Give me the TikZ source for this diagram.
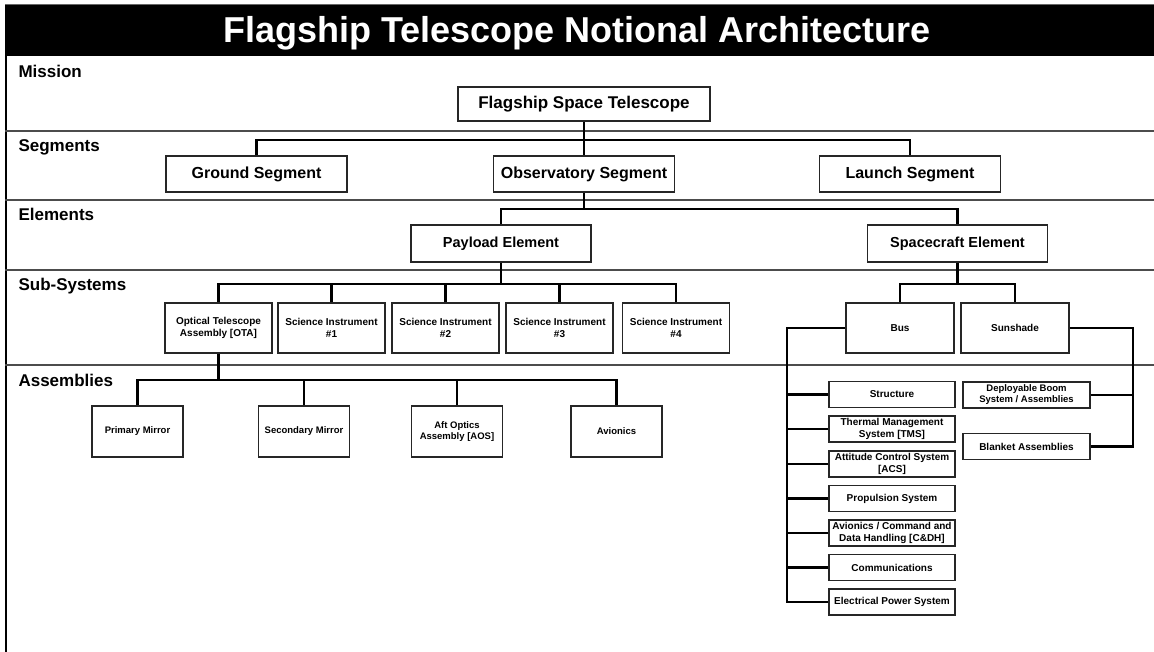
\documentclass[tikz,border=0pt]{standalone}
\usepackage{fontspec}
\setmainfont{Liberation Sans}

\begin{document}
\begin{tikzpicture}[x=1pt, y=-1pt,
  box/.style={draw=black!85, line width=1.4pt, fill=white, align=center, inner sep=1pt},
  seg/.style={box, font=\bfseries\fontsize{16}{18}\selectfont, minimum width=181pt, minimum height=36pt},
  elem/.style={box, font=\bfseries\fontsize{14.5}{17}\selectfont, minimum width=180pt, minimum height=37pt},
  sub/.style={box, font=\bfseries\fontsize{10}{12}\selectfont, minimum width=107pt, minimum height=50pt},
  assy/.style={box, font=\bfseries\fontsize{9.5}{11.5}\selectfont, minimum width=91pt, minimum height=51pt},
  part/.style={box, font=\bfseries\fontsize{10}{11.5}\selectfont, minimum width=126pt, minimum height=26pt},
  link/.style={line width=2.3pt},
  sep/.style={line width=1.7pt, draw=black!70},
  rowlabel/.style={anchor=base west, font=\bfseries\fontsize{17}{20}\selectfont}]

\useasboundingbox (0,0) rectangle (1154,652);

\fill[black] (5,5) rectangle (1154,56);
\draw[black!60, line width=0.8pt] (5,4.6) -- (1154,4.6);
\draw[line width=2.2pt] (6,5) -- (6,652);
\draw[sep] (5,131) -- (1154,131);
\draw[sep] (5,200) -- (1154,200);
\draw[sep] (5,270) -- (1154,270);
\draw[sep] (5,365) -- (1154,365);

\node[anchor=base, text=white, font=\bfseries\fontsize{36}{40}\selectfont] (title) at (577,43)
  {Flagship Telescope Notional Architecture};

\node[rowlabel] (mission) at (15,78) {Mission};
\node[rowlabel] (segments) at (15,152) {Segments};
\node[rowlabel] (elements) at (15,221) {Elements};
\node[rowlabel] (subsystems) at (15,291) {Sub-Systems};
\node[rowlabel] (assemblies) at (15,386) {Assemblies};

\node[box, font=\bfseries\fontsize{17}{20}\selectfont, minimum width=252pt, minimum height=34pt]
  (fst) at (584,104) {Flagship Space Telescope};

\node[seg] (ground) at (256.5,174) {Ground Segment};
\node[seg] (obs) at (584,174) {Observatory Segment};
\node[seg] (launch) at (910,174) {Launch Segment};

\node[elem] (payload) at (501,243.5) {Payload Element};
\node[elem] (craft) at (957.5,243.5) {Spacecraft Element};

\node[sub] (ota) at (218.5,328) {Optical Telescope\\Assembly [OTA]};
\node[sub] (si1) at (331.5,328) {Science Instrument\\\#1};
\node[sub] (si2) at (445.5,328) {Science Instrument\\\#2};
\node[sub] (si3) at (559.5,328) {Science Instrument\\\#3};
\node[sub] (si4) at (676,328) {Science Instrument\\\#4};
\node[sub, minimum width=108pt] (bus) at (900,328) {Bus};
\node[sub, minimum width=108pt] (shade) at (1015,328) {Sunshade};

\node[assy] (pm) at (137.5,431.5) {Primary Mirror};
\node[assy] (sm) at (304,431.5) {Secondary Mirror};
\node[assy] (aos) at (457,431.5) {Aft Optics\\Assembly [AOS]};
\node[assy] (avio) at (616.5,431.5) {Avionics};

\node[part] (struct) at (892,394.5) {Structure};
\node[part] (tms) at (892,429) {Thermal Management\\System [TMS]};
\node[part] (acs) at (892,464) {Attitude Control System\\{}[ACS]};
\node[part] (prop) at (892,498.5) {Propulsion System};
\node[part] (cdh) at (892,533) {Avionics / Command and\\Data Handling [C\&DH]};
\node[part] (comm) at (892,567.5) {Communications};
\node[part] (eps) at (892,602) {Electrical Power System};

\node[part, minimum width=127pt, font=\bfseries\fontsize{9.5}{11}\selectfont] (boom) at (1026.5,395) {Deployable Boom\\System / Assemblies};
\node[part, minimum width=127pt] (blanket) at (1026.5,446.5) {Blanket Assemblies};

\coordinate (segbar) at (584,140);
\coordinate (elbar) at (584,209);
\coordinate (subbar) at (501,284);
\coordinate (craftbar) at (957.5,284);
\coordinate (assbar) at (218.5,380);
\coordinate (busline) at (787,328);
\coordinate (shadeline) at (1133,328);

\draw[link] (fst.south) -- (obs.north);
\draw[link] (ground.north) |- (segbar) -| (launch.north);

\draw[link] (obs.south) -- (elbar);
\draw[link] (payload.north) |- (elbar) -| (craft.north);

\draw[link] (payload.south) -- (subbar);
\draw[link] (ota.north) |- (subbar) -| (si4.north);
\foreach \n in {si1,si2,si3}
  \draw[link] (\n.north) -- (\n.north |- subbar);

\draw[link] (craft.south) -- (craftbar);
\draw[link] (bus.north) |- (craftbar) -| (shade.north);

\draw[link] (ota.south) -- (assbar);
\draw[link] (pm.north) |- (assbar) -| (avio.north);
\foreach \n in {sm,aos}
  \draw[link] (\n.north) -- (\n.north |- assbar);

\draw[link] (bus.west) -- (busline) |- (eps.west);
\foreach \n in {struct,tms,acs,prop,cdh,comm}
  \draw[link] (\n.west) -- (\n.west -| busline);

\draw[link] (shade.east) -- (shadeline) |- (blanket.east);
\draw[link] (boom.east) -- (boom.east -| shadeline);
\end{tikzpicture}
\end{document}
